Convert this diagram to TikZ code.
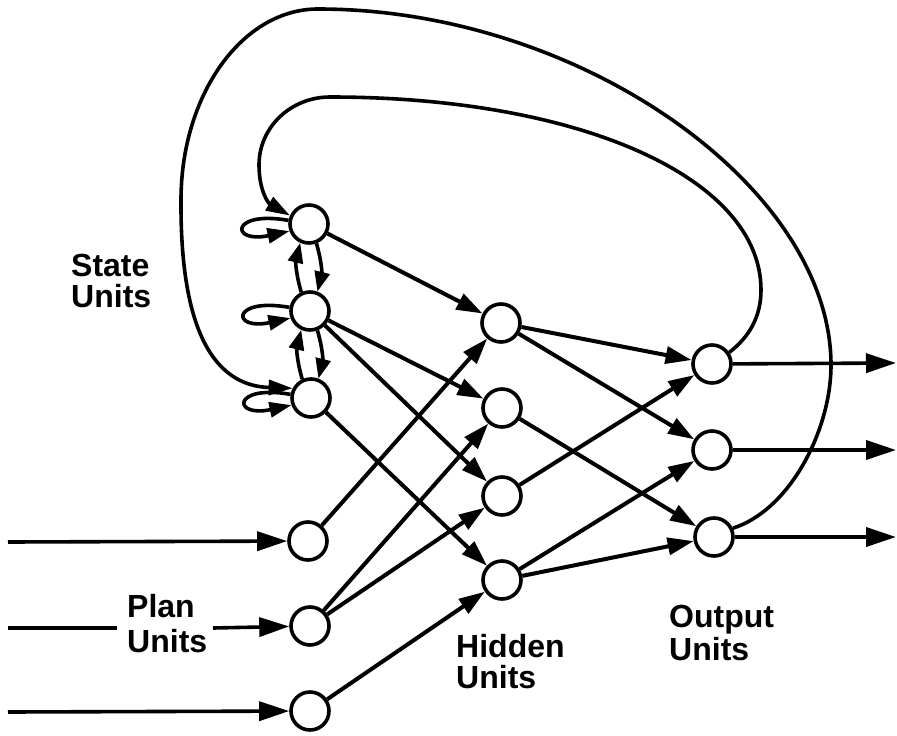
\documentclass[tikz,border=0pt]{standalone}
\usepackage{fontspec}
\setmainfont{Liberation Sans}
\usetikzlibrary{arrows.meta}
\begin{document}
\begin{tikzpicture}[x=1pt,y=-1pt,
 unit/.style={circle,draw,line width=3.6pt,minimum size=38pt,inner sep=0pt,fill=white},
 ff/.style={line width=4pt,-{Triangle[length=26pt,width=17pt]}},
 io/.style={line width=3.6pt,-{Triangle[length=30pt,width=19pt]}},
 plain/.style={line width=3.6pt},
 loopy/.style={line width=3.6pt,-{Triangle[length=22pt,width=15pt]}},
 vert/.style={line width=3.6pt,-{Triangle[length=20pt,width=15pt]}},
 arc/.style={line width=3.6pt,-{Triangle[length=24pt,width=15pt]}},
 lbl/.style={font=\bfseries\fontsize{32}{32}\selectfont, anchor=base west, inner sep=0pt}]
\useasboundingbox (0,0) rectangle (897,736);

% units
\node[unit] (S1) at (309,224) {};
\node[unit] (S2) at (310,311) {};
\node[unit] (S3) at (311,398) {};
\node[unit] (P1) at (308,541) {};
\node[unit] (P2) at (310,626) {};
\node[unit] (P3) at (310,711) {};
\node[unit] (H1) at (501,323) {};
\node[unit] (H2) at (502,408) {};
\node[unit] (H3) at (502,496) {};
\node[unit] (H4) at (502,580) {};
\node[unit] (O1) at (712,364) {};
\node[unit] (O2) at (712,450) {};
\node[unit] (O3) at (714,537) {};

% labels
\node[lbl] (ls1) at (71,276) {State};
\node[lbl] (ls2) at (71,307) {Units};
\node[lbl] (lp1) at (127,617) {Plan};
\node[lbl] (lp2) at (127,652) {Units};
\node[lbl] (lh1) at (456,657) {Hidden};
\node[lbl] (lh2) at (456,688) {Units};
\node[lbl] (lo1) at (669,627) {Output};
\node[lbl] (lo2) at (669,660) {Units};

% inputs
\coordinate (in1) at (8,542);
\coordinate (in2) at (8,628);
\coordinate (in2a) at (117,628);
\coordinate (in2b) at (213,628);
\coordinate (in3) at (8,712);
\draw[io] (in1) -- (P1);
\draw[plain] (in2) -- (in2a);
\draw[io] (in2b) -- (P2);
\draw[io] (in3) -- (P3);

% outputs
\coordinate (out1) at (896,363);
\coordinate (out2) at (896,450);
\coordinate (out3) at (896,537);
\draw[io] (O1) -- (out1);
\draw[io] (O2) -- (out2);
\draw[io] (O3) -- (out3);

% state to hidden
\draw[ff] (S1) -- (H1);
\draw[ff] (S2) -- (H2);
\draw[ff] (S2) -- (H3);
\draw[ff] (S3) -- (H4);
% plan to hidden
\draw[ff] (P1) -- (H1);
\draw[ff] (P2) -- (H2);
\draw[ff] (P2) -- (H3);
\draw[ff] (P3) -- (H4);
% hidden to output
\draw[ff] (H1) -- (O1);
\draw[ff] (H1) -- (O2);
\draw[ff] (H2) -- (O3);
\draw[ff] (H3) -- (O1);
\draw[ff] (H4) -- (O2);
\draw[ff] (H4) -- (O3);

% self loops
\draw[loopy] (S1.170) .. controls (230,210) and (230,244) .. (S1.200);
\draw[loopy] (S2.170) .. controls (231,297) and (231,331) .. (S2.200);
\draw[loopy] (S3.170) .. controls (232,384) and (232,418) .. (S3.200);

% state to state
\draw[vert] (S2.115) to[bend left=15] (S1.245);
\draw[vert] (S1.291) to[bend left=15] (S2.69);
\draw[vert] (S3.115) to[bend left=15] (S2.245);
\draw[vert] (S2.291) to[bend left=15] (S3.69);

% recurrent arcs
\coordinate (ia) at (761,290);
\coordinate (ib) at (330,97);
\coordinate (ic) at (259,165);
\draw[arc] (O1.34) .. controls (748,338) and (761,318) .. (ia)
  .. controls (761,178) and (580,97) .. (ib)
  .. controls (291,97) and (259,127) .. (ic)
  .. controls (259,190) and (268,203) .. (S1.156);
\coordinate (oa) at (831,365);
\coordinate (ob) at (318,9);
\coordinate (oc) at (181,200);
\draw[arc] (O3.25) .. controls (790,510) and (831,430) .. (oa)
  .. controls (831,187) and (580,9) .. (ob)
  .. controls (242,9) and (181,95) .. (oc)
  .. controls (180,345) and (222,386) .. (S3.152);
\end{tikzpicture}
\end{document}
